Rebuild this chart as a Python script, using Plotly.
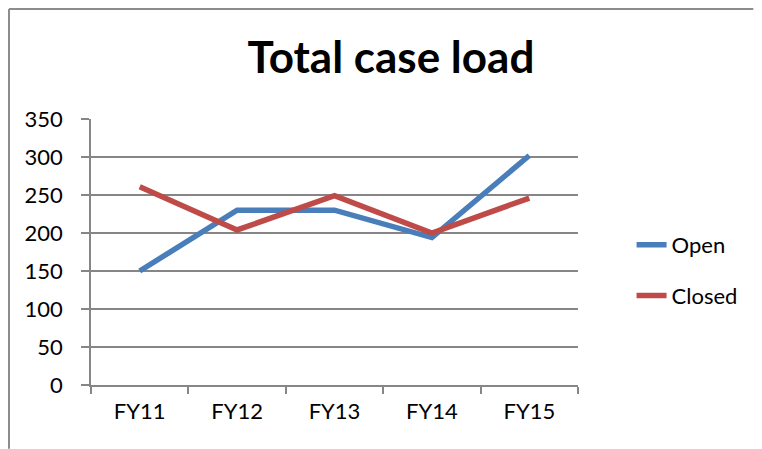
import plotly.graph_objects as go

years = ['FY11', 'FY12', 'FY13', 'FY14', 'FY15']
open_cases = [150, 230, 230, 194, 302]
closed_cases = [261, 204, 249, 200, 246]

y_ticks = [0, 50, 100, 150, 200, 250, 300, 350]

grid_col = '#868686'
font_fam = 'Lato, Calibri, Arial, sans-serif'

fig = go.Figure()
fig.add_trace(go.Scatter(
    x=years, y=open_cases, mode='lines', name='Open', legendgroup='a',
    line=dict(color='#4A7EBB', width=5.5)
))
fig.add_trace(go.Scatter(
    x=years, y=closed_cases, mode='lines', name='Closed', legendgroup='b',
    line=dict(color='#BE4B48', width=5.5)
))

# chart-area border (top and left edges visible in the reference)
fig.add_shape(type='line', xref='paper', yref='paper',
              x0=-0.1684, x1=1.36, y0=1.4135, y1=1.4135,
              line=dict(color='#8C8C8C', width=2))
fig.add_shape(type='line', xref='paper', yref='paper',
              x0=-0.1684, x1=-0.1684, y0=1.4135, y1=-0.24,
              line=dict(color='#8C8C8C', width=2))

# page body has an 8px margin, so the figure is sized to fit the window
fig.update_layout(
    width=754, height=441,
    margin=dict(l=83, r=184, t=111, b=64),
    paper_bgcolor='white', plot_bgcolor='white',
    font=dict(family=font_fam, size=22, color='black'),
    title=dict(text='<b>Total case load</b>', x=0.5079, xanchor='center',
               y=0.887, yanchor='middle', font=dict(size=44)),
    showlegend=True,
    legend=dict(x=1.11, y=0.4305, xanchor='left', yanchor='middle',
                tracegroupgap=19, font=dict(size=22)),
    xaxis=dict(type='category', range=[-0.5, 4.5], tickson='boundaries',
               ticks='outside', ticklen=7, tickcolor=grid_col, tickwidth=1.5,
               showgrid=False, showline=True, linecolor=grid_col, linewidth=1.5,
               ticklabelstandoff=6),
    yaxis=dict(range=[0, 350], tickvals=y_ticks, ticks='outside', ticklen=8,
               tickcolor=grid_col, tickwidth=1.5, showgrid=True,
               gridcolor=grid_col, gridwidth=1.5, showline=True,
               linecolor=grid_col, linewidth=1.5, zeroline=False,
               ticklabelstandoff=14),
)

fig.write_html('out.html', config={'displayModeBar': False})
